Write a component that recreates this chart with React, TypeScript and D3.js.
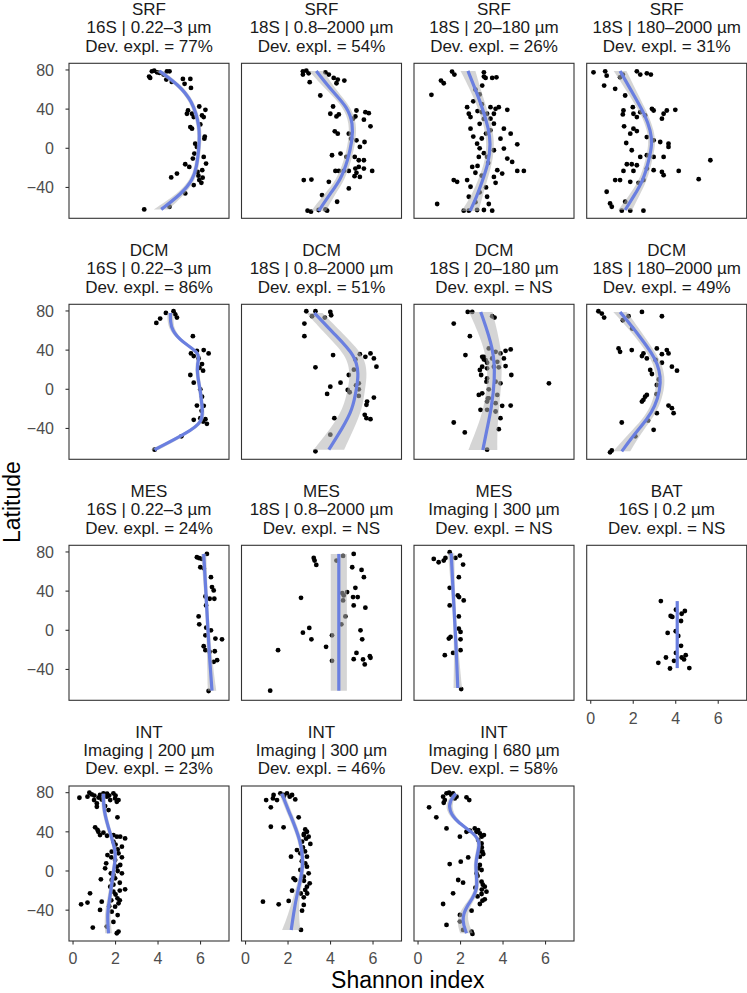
import React from "react";
import * as d3 from "d3";

// ---------- layout constants ----------
const W = 747;
const H = 993;
const colLefts = [69, 241.5, 414, 586.7];
const rowTops = [63.3, 304.3, 545.3, 786];
const PW = 160;
const PH = 155;

// ---------- axes ----------
const xDomain = [-0.19, 7.34];
const yDomain = [-71.5, 86.8];
const xTicks = [0, 2, 4, 6];
const yTicks = [-40, 0, 40, 80];
const xTitle = "Shannon index";
const yTitle = "Latitude";

// ---------- data: points as [shannon, latitude] ----------
const p1Pts = [[3.71,78.6],[3.82,79.3],[3.58,73.2],[3.63,71.9],[3.95,77.6],[4.07,77],[4.26,75.3],[4.42,78.6],[4.54,78.6],[4.39,70.2],[4.65,67.8],[5.17,70.8],[5.52,70.8],[5.55,61.7],[5.25,65.8],[5.94,42.7],[5.41,38.6],[5.36,35.3],[5.6,35.3],[6.07,33.6],[6.23,39.3],[6.15,31.9],[5.68,31.9],[5.52,21.7],[5.99,24.4],[5.6,20],[6.18,9.8],[5.75,4.7],[5.83,1.4],[5.71,-5.4],[6.15,-8.8],[5.64,-10.5],[6.26,-15.6],[5.28,-16.3],[5.47,-19],[6.08,-22.4],[5.86,-24.1],[4.89,-25.8],[4.62,-29.8],[5.94,-32.5],[6.04,-35.3],[5.68,-37.6],[5.28,-46.1],[4.54,-59.7],[3.35,-62.4],[6.2,12],[5.9,-28],[6.1,-30]];
const p2Pts = [[2.7,78.6],[2.86,79.3],[2.97,76.6],[2.7,75.3],[3.02,67.5],[3.52,53.9],[3.76,77.6],[3.92,75.3],[4.15,71.9],[4.34,70.2],[4.28,66.4],[4.65,69.2],[4.12,42.7],[3.99,35.3],[4.28,32.5],[4.39,34.6],[5.22,38.6],[5.17,32.5],[5.64,36.9],[5.57,29.2],[5.8,35.9],[5.88,22.4],[5.06,30.2],[4.2,17.3],[4.34,14.9],[4.86,14.9],[4.97,9.8],[5.6,6.4],[5.22,8.1],[5.38,1.4],[4.07,-7.1],[4.47,-5.4],[4.75,-8.8],[5.14,-8.8],[5.33,-12.2],[5.57,-12.2],[4.23,-23.1],[4.39,-23.1],[4.62,-23.1],[4.86,-23.1],[5.17,-20.7],[5.33,-19],[5.22,-25.1],[5.57,-20.7],[5.96,-23.1],[5.38,-29.2],[5.13,-28.5],[2.74,-32.5],[3.1,-31.9],[3.92,-34.2],[4.86,-41],[3.6,-47.8],[4.31,-54.6],[2.92,-63.7],[3.08,-64.7],[3.44,-63],[3.76,-62.4],[3.84,-63.7]];
const p3Pts = [[1.6,78.3],[1.71,75.3],[1.08,69.2],[1.21,66.4],[0.63,54.6],[2.31,42],[2.39,35.3],[2.47,31.9],[2.47,20],[2.78,4.7],[2.86,-8.8],[2.55,-19],[1.68,-32.5],[1.84,-34.2],[2.31,-32.5],[2.47,-39.3],[2.39,-49.5],[0.9,-56.9],[2.15,-63.7],[2.39,-63.7],[2.78,-63],[3.1,-63],[3.1,77.6],[3.18,71.9],[3.02,64.1],[3.1,73.2],[3.49,71.9],[3.69,72.5],[3.41,42],[3.65,40.3],[3.8,42],[4.2,39.3],[3.25,35.3],[3.57,35.3],[3.41,30.2],[3.57,25.1],[4.04,20],[3.41,18.3],[4.36,14.9],[3.88,9.8],[4.67,4.1],[3.57,-2],[4.04,-0.3],[3.25,-8.8],[4.2,-10.5],[4.43,-13.9],[3.73,-22.4],[4.98,-23.1],[4.67,-23.1],[3.96,-25.8],[3.57,-29.2],[3.65,-35.3],[3.25,-49.5],[3.33,-56.9],[3.49,-63.7],[2.7,60],[2.9,55],[2.6,48],[3.0,45],[2.8,38],[3.1,30],[2.9,25],[3.2,15],[3.0,10],[2.9,0],[3.1,-5],[3.3,-15],[2.8,-18],[3.0,-28],[3.2,-40],[2.9,-45],[2.7,-55],[2.6,12],[2.7,-25],[3.0,37]];
const p4Pts = [[0.13,77.6],[0.68,78.6],[0.75,74.2],[0.63,64.1],[1.15,60.7],[1.38,72.5],[1.51,75.3],[2.17,78.6],[2.33,75.3],[2.64,76.6],[2.83,75.3],[1.62,53.9],[1.54,38.6],[1.51,34.6],[1.98,42],[2.01,35.3],[2.17,31.9],[2.33,36.9],[2.56,33.6],[2.88,40.3],[2.96,38.6],[3.43,35.3],[3.35,30.2],[3.58,38.6],[3.98,39.3],[1.57,22.4],[2.01,20],[2.17,17.6],[1.86,14.9],[2.64,11.5],[2.96,8.1],[3.27,6.4],[3.66,4.7],[3.66,1.4],[1.67,5.4],[1.93,-2],[2.33,-8.8],[2.64,-7.1],[2.96,-8.8],[3.43,-8.8],[5.63,-12.2],[1.7,-16.3],[1.93,-16.3],[2.17,-17.3],[2.01,-23.1],[1.54,-23.1],[2.64,-20.7],[2.96,-22.4],[3.35,-24.1],[3.43,-27.5],[4.14,-23.1],[5.08,-31.5],[1.15,-32.5],[1.38,-32.5],[1.86,-34.2],[2.25,-35.3],[2.48,-32.5],[0.75,-44.4],[0.91,-56.3],[0.99,-59.7],[1.62,-54.6],[1.46,-63.7],[1.86,-63.7],[2.48,-63.7]];
const p5Pts = [[4.37,78],[4.73,79.7],[4.81,76.6],[4.89,73.2],[4.1,72.2],[3.92,67.8],[5.64,54.2],[5.83,39.3],[6.15,40],[6.38,36.6],[5.55,36.6],[5.68,33.9],[5.91,31.5],[6.07,25.8],[6.12,19],[5.52,14.6],[5.68,6.8],[5.99,0],[6.07,-7.5],[6.15,-16.9],[5.83,-16.6],[5.68,-31.2],[5.99,-29.5],[6.23,-30.5],[6.3,-35.3],[6.12,-32.9],[3.84,-61.7],[5.95,22],[6.05,-22],[5.1,-48]];
const p6Pts = [[2.86,79.7],[3.13,74.6],[3.29,79.7],[3.73,73.2],[3.99,79],[4.03,75.6],[2.77,67.1],[2.77,54.2],[4.12,34.9],[5.17,30.5],[5.38,35.9],[5.64,33.2],[5.88,36.6],[6.04,31.5],[6.16,23.1],[3.29,22.4],[4.86,14.6],[4.47,6.8],[5.33,6.1],[3.99,2.7],[4.81,-0.7],[3.84,-4.7],[5.33,0],[5.33,-6.8],[6.04,-8.5],[5.72,-12.5],[5.69,-15.9],[5.61,-26.1],[5.88,-30.5],[5.69,-29.5],[4.18,-29.5],[3.99,-46.4],[3.29,-63.4],[5.1,20],[5.2,4],[4.9,-3]];
const p7Pts = [[2.34,79],[2.55,79],[1.68,67.1],[2.44,54.2],[2.23,34.9],[3.02,33.2],[3.1,30.5],[2.91,19.7],[2.97,14.6],[3.25,27.1],[3.25,21.4],[3.22,7.8],[2.86,-5.8],[3.29,-9.2],[3.25,-21],[2.94,-21],[1.68,-33.9],[2.2,-44.1],[3.25,-61.7],[3.49,74.6],[3.6,73.2],[3.33,41.7],[3.1,33.2],[3.65,38.3],[3.88,36.6],[4.12,39.3],[4.36,40.7],[3.18,29.8],[3.49,31.5],[3.73,28.1],[4.04,31.5],[3.02,23.1],[3.57,23.1],[3.8,22.4],[4.12,23.7],[4.39,14.6],[3.25,11.2],[3.65,7.8],[3.88,6.1],[3.33,0],[3.02,-4.1],[3.73,-5.8],[3.33,-9.2],[3.25,-12.5],[3.65,-14.2],[3.96,-16.9],[4.36,-16.6],[3.65,-22.7],[3.88,-29.5],[3.8,-40.7],[6.16,6.1]];
const p8Pts = [[0.36,79.7],[0.52,77.3],[0.63,73.2],[1.51,70.5],[1.78,74.6],[2.41,79],[3.35,74.6],[1.31,41.7],[1.38,38.3],[1.93,40],[2.48,36.6],[2.41,33.9],[2.64,31.5],[3.11,41.7],[3.35,35.9],[3.58,40],[3.66,36.6],[3.82,23.1],[4.06,19],[2.8,19.7],[2.88,15.6],[3.35,27.1],[3.11,4.4],[2.56,-7.5],[2.48,-10.8],[2.41,-12.5],[2.64,-5.8],[3.66,-16.6],[3.82,-19.3],[3.9,-24.4],[1.46,-33.9],[3.11,-24.4],[2.96,-41.4],[0.99,-62.4],[0.91,-64.4],[1.95,62],[3.05,30],[3.2,10],[3.1,-5],[2.7,-32],[2.1,-48]];
const p9Pts = [[5.83,74.6],[5.94,73.6],[6.07,72.9],[6.3,78],[5.99,64.4],[6.15,63.4],[6.49,54.2],[6.54,44.1],[6.62,40.7],[6.23,34.6],[6.65,32.2],[6.43,32.2],[6.26,25.4],[5.91,14.2],[5.94,6.1],[6.27,2.7],[6.49,0],[6.23,-5.1],[6.7,-8.5],[7.01,-9.2],[6.15,-16.3],[6.23,-20.3],[6.43,-22],[6.67,-21.4],[6.78,-30.5],[6.62,-32.2],[6.38,-62]];
const p10Pts = [[3.21,73.9],[3.25,71.2],[3.33,66.8],[4.28,71.2],[4.59,75.9],[5.09,78],[5.02,64.4],[5.46,61.7],[5.57,54.2],[5.17,43.4],[4.78,39],[5.06,33.9],[5.28,33.9],[4.62,35.6],[4.59,30.5],[5.09,25.4],[5.64,23.1],[2.61,33.2],[4.7,14.2],[4.51,6.1],[5.41,0],[5.49,-9.2],[3.0,2.4],[2.7,-2.4],[3.1,-9.2],[4.07,-5.1],[3.79,-16.9],[5.22,-23.1],[5.09,-29.5],[5.53,-29.8],[5.61,-34.9],[5.85,-26.4],[5.88,-28.1],[4.07,-31.2],[1.53,-20.3],[1.16,-61.7],[4.55,38]];
const p11Pts = [[0.74,72.9],[0.97,69.5],[1.21,71.2],[1.29,73.9],[1.49,79.7],[1.76,73.9],[1.97,76.3],[2.12,67.1],[1.92,54.2],[1.49,43.4],[1.87,35.6],[1.93,33.9],[2.15,30.5],[1.49,25.4],[1.92,14.2],[1.92,1.7],[2.0,-1.7],[1.53,-6.8],[1.45,-8.5],[2.0,-9.2],[1.65,-23.1],[2.0,-20.3],[1.26,-25.4],[2.03,-60]];
const p12Pts = [[3.3,29.8],[4.01,21],[4.43,19.7],[4.28,16.9],[3.76,14.6],[3.84,13.6],[4.25,9.5],[3.62,-2.7],[4.12,-5.8],[4.25,-15.9],[4.01,-23.1],[4.28,-27.8],[4.47,-25.4],[4.39,-29.8],[3.54,-27.8],[3.18,-33.2],[3.92,-31.2],[3.73,-39],[4.64,-38.6],[4.0,-1]];
const p13Pts = [[0.3,74.8],[0.77,79.9],[0.68,75.9],[0.88,78.2],[0.99,72.4],[1.12,69],[1.27,77.6],[1.43,79.3],[1.59,75.9],[1.75,72.4],[1.9,79.3],[1.98,74.1],[2.06,70.7],[2.14,72.4],[1.12,65.6],[1.51,66.3],[1.67,62.2],[2.09,54.8],[1.04,44.6],[1.19,40.1],[1.43,39.1],[1.27,36.7],[1.9,36.7],[2.06,35],[2.22,35],[2.45,33.3],[2.3,24.8],[2.14,18],[1.98,11.2],[2.06,4.4],[2.22,6.1],[1.78,-2.4],[1.82,-9.2],[1.98,-7.5],[2.3,-2.4],[2.45,-18.7],[1.75,-16],[1.9,-21.1],[2.09,-27.9],[2.14,-33],[1.98,-36.4],[1.31,-8.5],[1.35,-31.3],[1.27,-39.8],[0.8,-22.8],[0.68,-32.3],[0.38,-34],[0.93,-57.8],[2.06,-63.6],[2.14,-61.9],[1.59,-56.8],[1.82,-41.5],[1.51,2.7],[1.56,7.8],[1.62,16.3],[1.82,19.7],[1.9,30],[2.0,27],[2.1,22],[1.8,14],[2.1,0],[1.9,-4],[2.2,-12],[1.9,-14],[2.0,-24],[2.2,-30],[1.8,-30],[2.1,-45],[1.9,-52],[1.2,75],[1.6,79],[1.0,77],[1.35,73],[1.7,77],[2.0,77],[1.15,42],[1.6,36],[2.3,14],[2.2,-20],[1.7,-36]];
const p14Pts = [[1.64,79.3],[1.79,77.6],[1.95,79.3],[2.08,75.9],[2.19,77.6],[2.34,73.1],[1.32,77.6],[1.29,74.1],[0.97,72.4],[1.48,72.4],[1.19,65],[2.5,54.8],[1.19,45.2],[1.79,44.6],[2.81,42.5],[2.89,40.1],[2.74,36.7],[2.97,35],[3.05,27.6],[2.66,29.9],[2.42,21.4],[2.58,18],[2.14,14.6],[2.89,14.6],[2.81,7.8],[2.89,4.4],[2.58,1],[2.97,-2.4],[2.74,-5.8],[2.26,-7.5],[2.34,-9.2],[3.02,-12.6],[2.89,-16],[2.81,-19.4],[2.19,-20.1],[2.74,-26.9],[2.03,-30.6],[0.82,-31.3],[1.56,-34],[2.74,-34.7],[2.66,-40.5],[2.61,-60.2],[2.75,38],[2.85,33],[2.7,24],[2.8,20],[2.65,10],[2.75,-10],[2.6,-23],[2.9,-23],[1.8,76]];
const p15Pts = [[1.18,75.9],[1.34,79.3],[1.46,79.9],[1.57,77.6],[1.65,79.3],[1.26,72.4],[1.21,69.7],[1.73,74.1],[1.81,75.9],[2.28,75.2],[2.41,72.4],[0.52,65],[0.86,54.8],[1.34,43.5],[1.97,35],[2.28,40.1],[2.44,41.2],[2.67,43.5],[2.83,41.8],[2.91,38.4],[2.99,35],[3.1,36.7],[2.83,31.6],[2.99,28.2],[3.03,19.7],[3.07,17.3],[2.91,14.6],[2.36,13.9],[2.01,9.5],[1.49,7.1],[2.91,6.1],[2.83,2.7],[2.99,1],[2.75,-2.4],[1.89,-9.2],[2.12,-11.9],[2.99,-10.9],[3.14,-16],[3.22,-21.1],[2.99,-23.5],[1.65,-22.8],[3.14,-28.9],[3.03,-30.3],[2.91,-33.7],[1.18,-33.7],[2.52,-40.5],[1.97,-44.9],[1.34,-55.1],[1.97,-51.7],[2.12,-60.2],[2.56,-64.3],[2.52,-61.9],[2.75,40],[3.0,24],[2.9,20],[2.8,-5],[3.05,-14],[3.0,-19],[2.8,-26],[2.7,-17]];

// ---------- smooth fits: [latitude, fit, half-width of band] ----------
const p1Fit = [[79,4.07,0.18],[65,4.95,0.13],[49,5.6,0.11],[22,5.98,0.1],[1,5.93,0.1],[-19,5.82,0.1],[-32,5.64,0.12],[-46,5.13,0.18],[-62.4,4.15,0.35]];
const p2Fit = [[79,3.33,0.35],[59,4.05,0.22],[42,4.8,0.18],[25,5.06,0.17],[8,5.02,0.17],[-12,4.82,0.17],[-32.5,4.47,0.2],[-46,3.99,0.25],[-64,3.44,0.35]];
const p3Fit = [[79,2.35,0.35],[60,2.7,0.25],[40,3.05,0.2],[20,3.32,0.18],[5,3.42,0.18],[-15,3.32,0.18],[-35,3.0,0.22],[-50,2.75,0.28],[-64,2.45,0.4]];
const p4Fit = [[79,1.38,0.3],[48.8,2.17,0.2],[33.6,2.56,0.16],[18,2.82,0.16],[4.7,2.9,0.16],[-12,2.74,0.16],[-32.5,2.48,0.18],[-49.5,2.01,0.25],[-63,1.62,0.33]];
const p5Fit = [[78,4.58,0.15],[70,4.58,0.14],[60.3,4.65,0.12],[48.5,5.1,0.1],[36.6,6.02,0.1],[26.4,5.83,0.09],[12.9,5.86,0.09],[-0.7,5.99,0.09],[-17.6,6.07,0.09],[-32.9,6.14,0.1],[-44.7,5.36,0.14],[-61.7,3.84,0.2]];
const p6Fit = [[78,3.24,0.38],[57,4.15,0.42],[34,5.2,0.42],[15,5.32,0.4],[2.7,5.24,0.4],[-21,5.04,0.45],[-40,4.55,0.55],[-61.7,3.92,0.72]];
const p7Fit = [[79,2.95,0.55],[40,3.58,0.38],[10,3.62,0.32],[-20,3.45,0.36],[-40,3.25,0.48],[-62,3.05,0.68]];
const p8Fit = [[79,1.38,0.32],[53.6,2.33,0.22],[36.6,2.88,0.2],[26,3.14,0.2],[13,3.29,0.2],[-0.7,3.26,0.2],[-17.6,3.03,0.2],[-31,2.64,0.22],[-45,2.09,0.28],[-63.4,1.46,0.4]];
const p9Fit = [[78,6.15,0.12],[40,6.25,0.08],[0,6.35,0.08],[-30,6.43,0.12],[-61.7,6.54,0.2]];
const p10Fit = [[78,4.39,0.38],[-61.7,4.39,0.38]];
const p11Fit = [[78.6,1.56,0.15],[40,1.65,0.08],[0,1.75,0.08],[-30,1.82,0.12],[-59,1.87,0.2]];
const p12Fit = [[29.8,4.07,0.05],[-38.6,4.07,0.05]];
const p13Fit = [[79,1.43,0.1],[62,1.43,0.1],[38,1.75,0.09],[18,2.06,0.09],[1,1.9,0.09],[-26,1.75,0.1],[-43,1.6,0.13],[-63.6,1.67,0.16]];
const p14Fit = [[79,1.71,0.12],[60,2.05,0.12],[31.6,2.6,0.1],[4.4,2.76,0.1],[-22.8,2.42,0.12],[-45,2.25,0.25],[-60.2,2.15,0.43]];
const p15Fit = [[79,1.78,0.12],[72,1.5,0.14],[62,1.45,0.15],[50.3,1.81,0.12],[38.4,2.65,0.1],[28.2,2.98,0.1],[7.8,2.62,0.1],[-19.4,2.9,0.1],[-36.4,2.25,0.15],[-50,2.05,0.25],[-63.6,2.28,0.3]];

// ---------- panel titles ----------
const layers = ["SRF","SRF","SRF","SRF","DCM","DCM","DCM","DCM","MES","MES","MES","BAT","INT","INT","INT"];
const methods = [
  "16S | 0.22–3 µm","18S | 0.8–2000 µm","18S | 20–180 µm","18S | 180–2000 µm",
  "16S | 0.22–3 µm","18S | 0.8–2000 µm","18S | 20–180 µm","18S | 180–2000 µm",
  "16S | 0.22–3 µm","18S | 0.8–2000 µm","Imaging | 300 µm","16S | 0.2 µm",
  "Imaging | 200 µm","Imaging | 300 µm","Imaging | 680 µm"];
const devExpl = ["77%","54%","26%","31%","86%","51%","NS","49%","24%","NS","NS","NS","23%","46%","58%"];

const allPts = [p1Pts,p2Pts,p3Pts,p4Pts,p5Pts,p6Pts,p7Pts,p8Pts,p9Pts,p10Pts,p11Pts,p12Pts,p13Pts,p14Pts,p15Pts];
const allFits = [p1Fit,p2Fit,p3Fit,p4Fit,p5Fit,p6Fit,p7Fit,p8Fit,p9Fit,p10Fit,p11Fit,p12Fit,p13Fit,p14Fit,p15Fit];
// panels that carry an x axis (bottom of each column)
const xAxisPanels = [11, 12, 13, 14];

const FONT = "'Liberation Sans', Arial, Helvetica, sans-serif";
const LINE_COLOR = "#6a7fe0";

function fmt(v: number) {
  return v < 0 ? "\u2212" + Math.abs(v) : String(v);
}

function Panel({ i }: { i: number }) {
  const row = Math.floor(i / 4);
  const col = i % 4;
  const left = colLefts[col];
  const top = rowTops[row];
  const x = d3.scaleLinear().domain(xDomain).range([0, PW]);
  const y = d3.scaleLinear().domain(yDomain).range([PH, 0]);
  const fit = allFits[i];
  const area = d3
    .area<number[]>()
    .y((d) => y(d[0]))
    .x0((d) => x(d[1] - d[2]))
    .x1((d) => x(d[1] + d[2]))
    .curve(d3.curveBasis);
  const line = d3
    .line<number[]>()
    .x((d) => x(d[1]))
    .y((d) => y(d[0]))
    .curve(d3.curveBasis);
  const cx = PW / 2;
  return (
    <g transform={`translate(${left},${top})`}>
      <text x={cx} y={-48.3} textAnchor="middle" fontSize={17} fill="#1a1a1a">{layers[i]}</text>
      <text x={cx} y={-30} textAnchor="middle" fontSize={17} fill="#1a1a1a">{methods[i]}</text>
      <text x={cx} y={-11.7} textAnchor="middle" fontSize={17} fill="#1a1a1a">{"Dev. expl. = " + devExpl[i]}</text>
      <rect x={0} y={0} width={PW} height={PH} fill="#ffffff" />
      {allPts[i].map((p, k) => (
        <circle key={k} cx={x(p[0])} cy={y(p[1])} r={2.4} fill="#000" />
      ))}
      <path d={area(fit) || ""} fill="#b3b3b3" fillOpacity={0.55} />
      <path d={line(fit) || ""} fill="none" stroke={LINE_COLOR} strokeWidth={3.2} />
      <rect x={0} y={0} width={PW} height={PH} fill="none" stroke="#333333" strokeWidth={1.1} />
      {col === 0 &&
        yTicks.map((t) => (
          <g key={t} transform={`translate(0,${y(t)})`}>
            <line x1={-3.5} x2={0} stroke="#333333" strokeWidth={1.1} />
            <text x={-15} dy="0.36em" textAnchor="end" fontSize={16} fill="#4d4d4d">{fmt(t)}</text>
          </g>
        ))}
      {xAxisPanels.includes(i) &&
        xTicks.map((t) => (
          <g key={t} transform={`translate(${x(t)},${PH})`}>
            <line y1={0} y2={3.5} stroke="#333333" strokeWidth={1.1} />
            <text y={23.3} textAnchor="middle" fontSize={16} fill="#4d4d4d">{fmt(t)}</text>
          </g>
        ))}
    </g>
  );
}

export default function App() {
  const idx = d3.range(allPts.length);
  const plotCx = (colLefts[0] + colLefts[3] + PW) / 2;
  const plotCy = (rowTops[0] + rowTops[3] + PH) / 2;
  return (
    <svg
      width={W}
      height={H}
      style={{ position: "absolute", left: 0, top: 0, background: "#fff" }}
      fontFamily={FONT}
    >
      <rect width={W} height={H} fill="#fff" />
      {idx.map((i) => (
        <Panel key={i} i={i} />
      ))}
      <text x={plotCx} y={988} textAnchor="middle" fontSize={23} fill="#000">{xTitle}</text>
      <text
        transform={`translate(20,${plotCy}) rotate(-90)`}
        textAnchor="middle"
        fontSize={23}
        fill="#000"
      >
        {yTitle}
      </text>
    </svg>
  );
}
